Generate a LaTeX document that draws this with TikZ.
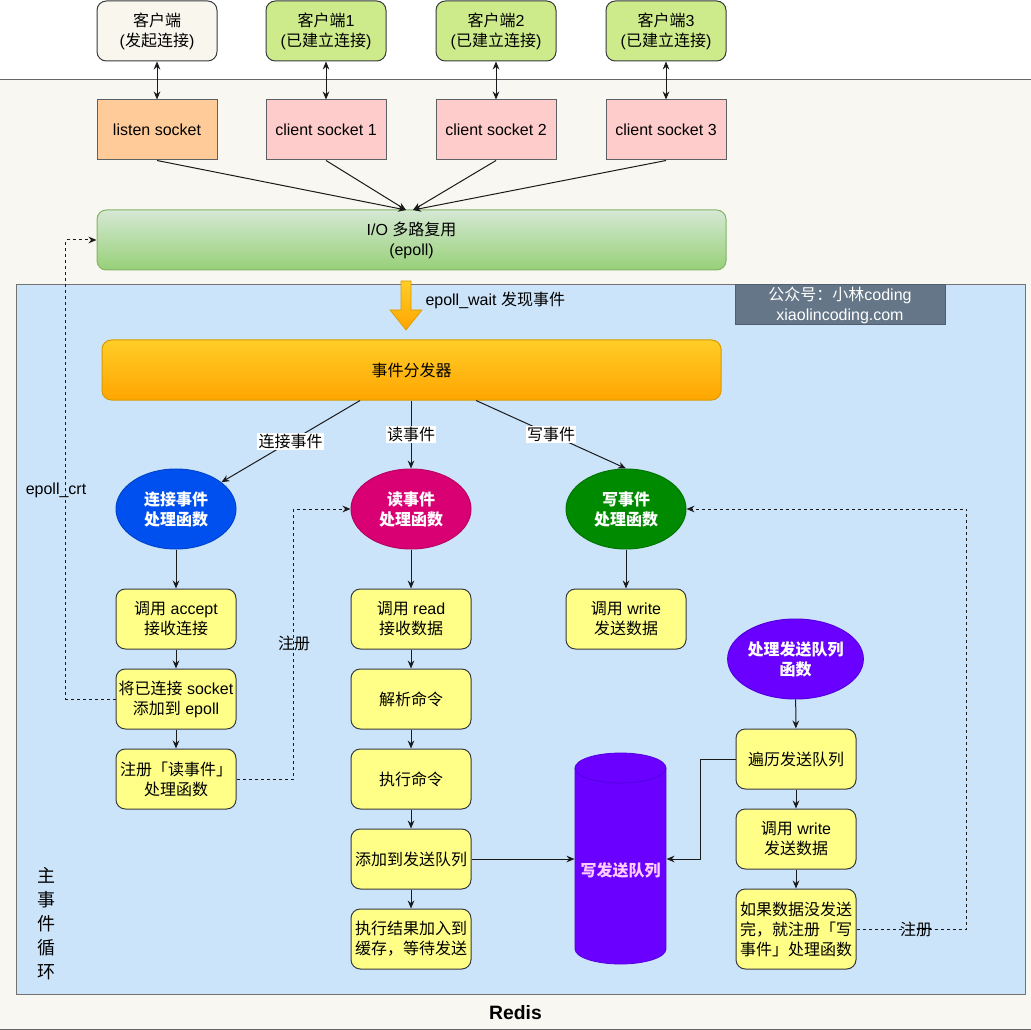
\documentclass[tikz,border=0pt]{standalone}
\usepackage{fontspec}
\setmainfont{Liberation Sans}
\newfontfamily\cjk{Noto Sans CJK SC}
\newfontfamily\latf{Liberation Sans}
\usetikzlibrary{arrows.meta,shapes.geometric}
% automatic switching to the CJK font for CJK characters
\XeTeXinterchartokenstate=1
\chardef\cjkcls=100
\newcount\cjkc
\cjkc="3000 \loop \XeTeXcharclass\cjkc=\cjkcls \advance\cjkc by 1 \ifnum\cjkc<"3040 \repeat
\cjkc="4E00 \loop \XeTeXcharclass\cjkc=\cjkcls \advance\cjkc by 1 \ifnum\cjkc<"A000 \repeat
\cjkc="FF00 \loop \XeTeXcharclass\cjkc=\cjkcls \advance\cjkc by 1 \ifnum\cjkc<"FFF0 \repeat
\XeTeXinterchartoks 0 \cjkcls = {\cjk}
\XeTeXinterchartoks 4095 \cjkcls = {\cjk}
\XeTeXinterchartoks \cjkcls 0 = {\latf}
\XeTeXinterchartoks \cjkcls 4095 = {\latf}

\definecolor{cream}{HTML}{F9F7F1}
\definecolor{bluebg}{HTML}{CCE4FA}
\definecolor{bord}{HTML}{36393D}
\definecolor{yel}{HTML}{FFFF88}
\definecolor{pinkc}{HTML}{FFCCCC}
\definecolor{orgc}{HTML}{FFCC99}
\definecolor{grnc}{HTML}{CDEB8B}
\definecolor{clnt}{HTML}{F9F7ED}
\definecolor{wm}{HTML}{647687}
\definecolor{wmb}{HTML}{4F5F6F}
\definecolor{eblue}{HTML}{0050EF}
\definecolor{emag}{HTML}{D80073}
\definecolor{egrn}{HTML}{008A00}
\definecolor{epur}{HTML}{6A00FF}
\definecolor{cylb}{HTML}{5200E0}
\definecolor{cyltext}{HTML}{FFCCFF}
\definecolor{iot}{HTML}{D5E8D4}
\definecolor{iob}{HTML}{97D077}
\definecolor{iobd}{HTML}{82B366}
\definecolor{dispt}{HTML}{FFCD28}
\definecolor{dispb}{HTML}{FFA500}
\definecolor{dispd}{HTML}{D79B00}
\definecolor{linec}{HTML}{1A1A1A}

\newcommand\fsz{\fontsize{12}{15}\selectfont}

\tikzset{
  base/.style={font=\fsz, align=center, inner sep=0pt, line width=0.75pt, text=black},
  clientbox/.style={base, draw=bord, rounded corners=7pt, minimum width=90pt, minimum height=45pt},
  sockbox/.style={base, draw=bord!80, minimum width=90pt, minimum height=45pt},
  ybox/.style={base, draw=bord, fill=yel, rounded corners=7pt, minimum width=90pt, minimum height=45pt},
  ybig/.style={ybox, minimum height=60pt},
  ell/.style={base, ellipse, text=white, font=\fsz\bfseries, minimum width=90pt, minimum height=60pt},
  conn/.style={line width=0.75pt, draw=linec, -{Stealth[length=6pt,width=5pt]}},
  dbl/.style={line width=0.75pt, draw=linec, {Stealth[length=6pt,width=5pt]}-{Stealth[length=6pt,width=5pt]}},
  dsh/.style={conn, dash pattern=on 2.25pt off 2.25pt},
  lbl/.style={base, fill=white, inner sep=1pt},
  plainlbl/.style={base},
}

\begin{document}
\begin{tikzpicture}[x=0.75pt,y=-0.75pt]
\useasboundingbox (0,0) rectangle (1031,1030);
% backgrounds
\fill[white] (0,0) rectangle (1031,80);
\fill[cream] (0,80) rectangle (1031,1030);
\draw[line width=0.75pt, draw=black!60] (0,80) -- (1031,80);
\draw[line width=0.75pt, draw=black!60] (0,1029) -- (1031,1029);
\node[font=\bfseries\fontsize{14.5}{17}\selectfont, inner sep=0pt] (redis) at (515.5,1013) {Redis};

% main event loop container
\draw[fill=bluebg, draw=black!55, line width=0.75pt] (16,285) rectangle (1025,994);
\node[base, font=\fontsize{13.5}{18}\selectfont] (mainloop) at (46,924) {主\\事\\件\\循\\环};

% clients
\node[clientbox, fill=clnt] (c0) at (157,31) {客户端\\(发起连接)};
\node[clientbox, fill=grnc] (c1) at (326,31) {客户端1\\(已建立连接)};
\node[clientbox, fill=grnc] (c2) at (496,31) {客户端2\\(已建立连接)};
\node[clientbox, fill=grnc] (c3) at (666,31) {客户端3\\(已建立连接)};

% sockets
\node[sockbox, fill=orgc] (s0) at (157,130) {listen socket};
\node[sockbox, fill=pinkc] (s1) at (326,130) {client socket 1};
\node[sockbox, fill=pinkc] (s2) at (496,130) {client socket 2};
\node[sockbox, fill=pinkc] (s3) at (666,130) {client socket 3};

\draw[dbl] (c0) -- (s0);
\draw[dbl] (c1) -- (s1);
\draw[dbl] (c2) -- (s2);
\draw[dbl] (c3) -- (s3);

% I/O multiplexing
\node[base, draw=iobd, top color=iot, bottom color=iob, rounded corners=7pt,
      minimum width=471.75pt, minimum height=45pt] (io) at (411.5,240) {I/O 多路复用\\(epoll)};
\coordinate (m1) at (406,210);
\coordinate (m2) at (413,210);
\draw[conn] (s0.south) -- (m1);
\draw[conn] (s1.south) -- (m1);
\draw[conn] (s2.south) -- (m2);
\draw[conn] (s3.south) -- (m2);

% big orange arrow
\draw[top color=dispt, bottom color=dispb, draw=dispd, line width=0.5pt]
  (401,281) -- (411,281) -- (411,310) -- (422,310) -- (406,330) -- (390,310) -- (401,310) -- cycle;
\node[base, anchor=west] (ew) at (425,300) {epoll\_wait 发现事件};

% watermark
\node[base, fill=wm, draw=wmb, text=white, minimum width=157.5pt, minimum height=30pt] (wm) at (840,305)
  {公众号：小林coding\\xiaolincoding.com};

% dispatcher
\node[base, draw=dispd, top color=dispt, bottom color=dispb, rounded corners=7pt,
      minimum width=464.25pt, minimum height=45pt] (disp) at (411.5,370) {事件分发器};

% handlers
\node[ell, fill=eblue, draw=eblue!85!black] (e1) at (176,509) {连接事件\\处理函数};
\node[ell, fill=emag, draw=emag!85!black] (e2) at (411,509) {读事件\\处理函数};
\node[ell, fill=egrn, draw=egrn!85!black] (e3) at (626,509) {写事件\\处理函数};

\draw[conn] ([xshift=-38.6pt]disp.south) -- (e1) node[lbl, midway] {连接事件};
\draw[conn] (disp.south -| e2.north) -- (e2.north) node[lbl, midway] {读事件};
\draw[conn] ([xshift=48.4pt]disp.south) -- (e3.north) node[lbl, midway] {写事件};

% accept column
\node[ybox] (a1) at (176,619) {调用 accept\\接收连接};
\node[ybox] (a2) at (176,699) {将已连接 socket\\添加到 epoll};
\node[ybox] (a3) at (176,779) {注册「读事件」\\处理函数};
\draw[conn] (e1) -- (a1);
\draw[conn] (a1) -- (a2);
\draw[conn] (a2) -- (a3);

% read column
\node[ybox] (r1) at (411,619) {调用 read\\接收数据};
\node[ybox] (r2) at (411,699) {解析命令};
\node[ybox] (r3) at (411,779) {执行命令};
\node[ybox] (r4) at (411,859) {添加到发送队列};
\node[ybox] (r5) at (411,939) {执行结果加入到\\缓存，等待发送};
\draw[conn] (e2) -- (r1);
\draw[conn] (r1) -- (r2);
\draw[conn] (r2) -- (r3);
\draw[conn] (r3) -- (r4);
\draw[conn] (r4) -- (r5);

% write column
\node[ybox] (w1) at (626,619) {调用 write\\发送数据};
\draw[conn] (e3) -- (w1);

% send queue handler column
\node[ell, fill=epur, draw=cylb, minimum width=90.75pt] (e4) at (795.5,659) {处理发送队列\\函数};
\node[ybox] (q1) at (796,759) {遍历发送队列};
\node[ybox] (q2) at (796,839) {调用 write\\发送数据};
\node[ybig] (q3) at (796,929) {如果数据没发送\\完，就注册「写\\事件」处理函数};
\draw[conn] (e4) -- (q1);
\draw[conn] (q1) -- (q2);
\draw[conn] (q2) -- (q3);

% cylinder (write send queue)
\fill[epur] (575,768) rectangle (666,949);
\fill[epur] (620.5,949) ellipse[x radius=34.125pt, y radius=11.25pt];
\fill[epur] (620.5,768) ellipse[x radius=34.125pt, y radius=11.25pt];
\draw[cylb, line width=0.6pt] (620.5,768) ellipse[x radius=34.125pt, y radius=11.25pt];
\draw[cylb, line width=0.6pt] (575,768) -- (575,949)
  arc[start angle=180, end angle=360, x radius=34.125pt, y radius=11.25pt] -- (666,768);
\node[base, text=cyltext, font=\fsz\bfseries, minimum width=68.25pt, minimum height=20pt] (cyl) at (620.5,870) {写发送队列};

\draw[conn] (r4.east) -- (r4.east -| cyl.west);
\draw[conn] (q1.west) -- ++(-35,0) |- (cyl.east |- r4.east);

% dashed registrations
\draw[dsh] (a2.west) -- ++(-50,0) |- (io.west);
\node[plainlbl] (lcrt) at (56,490) {epoll\_crt};
\draw[dsh] (a3.east) -- ++(57,0) |- (e2.west);
\node[plainlbl] (lreg1) at (294,643) {注册};
\draw[dsh] (q3.east) -- ++(110,0) |- (e3.east);
\node[plainlbl] (lreg2) at (916,929) {注册};
\end{tikzpicture}
\end{document}
